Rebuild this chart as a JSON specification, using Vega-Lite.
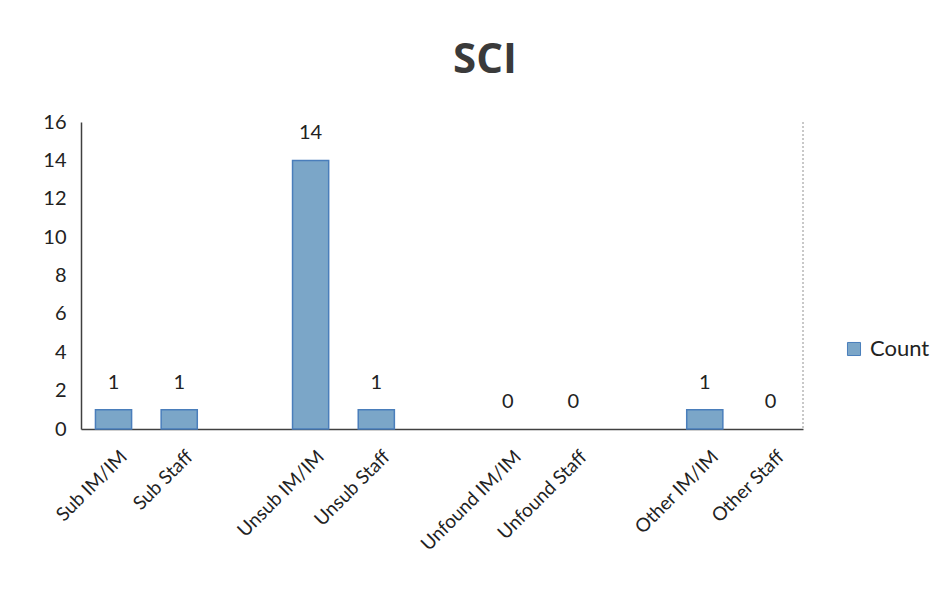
{
  "$schema": "https://vega.github.io/schema/vega-lite/v6.json",
  "autosize": "none",
  "width": 722,
  "height": 307,
  "padding": {"left": 81, "top": 122, "right": 144, "bottom": 173},
  "background": "white",
  "config": {"font": "Lato", "view": {"stroke": null}},
  "title": {"text": "SCI", "fontSize": 42, "font": "Open Sans", "fontWeight": "bold", "color": "#3a3a3a", "anchor": "middle", "dx": 43, "offset": 30},
  "data": {"values": [
    {"category": "Sub IM/IM", "value": 1, "series": "Count"},
    {"category": "Sub Staff", "value": 1, "series": "Count"},
    {"category": "Unsub IM/IM", "value": 14, "series": "Count"},
    {"category": "Unsub Staff", "value": 1, "series": "Count"},
    {"category": "Unfound IM/IM", "value": 0, "series": "Count"},
    {"category": "Unfound Staff", "value": 0, "series": "Count"},
    {"category": "Other IM/IM", "value": 1, "series": "Count"},
    {"category": "Other Staff", "value": 0, "series": "Count"}
  ]},
  "encoding": {
    "x": {
      "field": "category", "type": "nominal",
      "scale": {"domain": ["Sub IM/IM", "Sub Staff", "gap1", "Unsub IM/IM", "Unsub Staff", "gap2", "Unfound IM/IM", "Unfound Staff", "gap3", "Other IM/IM", "Other Staff"], "paddingInner": 0.45, "paddingOuter": 0.22},
      "axis": {"title": null, "labelAngle": -45, "labelAlign": "right", "labelBaseline": "top", "labelFontSize": 19, "labelColor": "#222", "ticks": false, "labelPadding": 18, "labelOffset": 4, "domainColor": "#404040", "domainWidth": 1.5, "labelExpr": "indexof(datum.value, 'gap') == 0 ? '' : datum.value"}
    },
    "y": {
      "field": "value", "type": "quantitative",
      "scale": {"domain": [0, 16]},
      "axis": {"title": null, "values": [0, 2, 4, 6, 8, 10, 12, 14, 16], "grid": false, "ticks": false, "labelFontSize": 20, "labelColor": "#222", "labelPadding": 15, "domainColor": "#404040", "domainWidth": 1.5}
    }
  },
  "layer": [
    {
      "mark": {"type": "rule", "strokeDash": [2, 2], "color": "#c8c8c8"},
      "encoding": {"x": {"value": 722}, "y": {"value": 0}, "y2": {"value": 307}, "text": null}
    },
    {
      "mark": {"type": "bar", "stroke": "#4a7ebb", "strokeWidth": 1.5},
      "encoding": {
        "color": {"field": "series", "type": "nominal", "scale": {"range": ["#7ba6c8"]},
          "legend": {"title": null, "orient": "none", "legendX": 762, "legendY": 216, "symbolType": "square", "symbolSize": 170, "symbolStrokeColor": "#4a7ebb", "symbolStrokeWidth": 1, "labelFontSize": 22, "labelColor": "#222", "labelOffset": 5}},
        "strokeOpacity": {"condition": {"test": "datum.value == 0", "value": 0}, "value": 1}
      }
    },
    {
      "mark": {"type": "text", "dy": -27, "baseline": "middle", "fontSize": 20, "color": "#222"},
      "encoding": {"text": {"field": "value", "type": "quantitative"}}
    }
  ]
}
